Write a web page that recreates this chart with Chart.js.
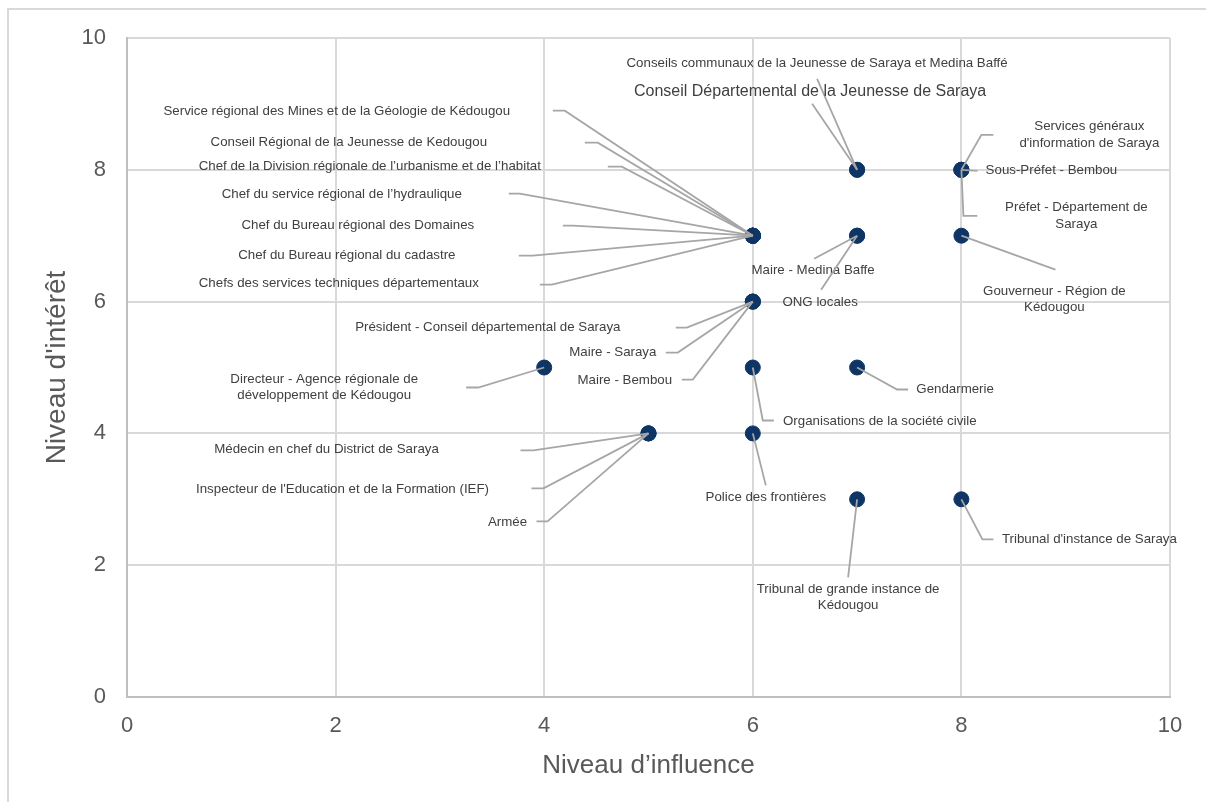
<!DOCTYPE html>
<html>
<head>
<meta charset="utf-8">
<script src="https://cdn.jsdelivr.net/npm/chart.js@4"></script>
<style>
  html, body { margin: 0; padding: 0; background: #fff; overflow: hidden; }
  #wrap { position: relative; width: 1206px; height: 802px; }
  #frame { position: absolute; left: 7px; top: 8px; width: 1400px; height: 1000px; border: 2px solid #d9d9d9; box-sizing: border-box; }
  #chart { position: absolute; left: 0; top: 0; }
</style>
</head>
<body>
<div id="wrap">
  <div id="frame"></div>
  <canvas id="chart" width="1206" height="802"></canvas>
</div>
<script>
const stakeholders = [
    "Service régional des Mines et de la Géologie de Kédougou",
    "Conseil Régional de la Jeunesse de Kedougou",
    "Chef de la Division régionale de l’urbanisme et de l’habitat",
    "Chef du service régional de l’hydraulique",
    "Chef du Bureau régional des Domaines",
    "Chef du Bureau régional du cadastre",
    "Chefs des services techniques départementaux",
    "Conseils communaux de la Jeunesse de Saraya et Medina Baffé",
    "Conseil Départemental de la Jeunesse de Saraya",
    "Services généraux\nd'information de Saraya",
    "Sous-Préfet - Bembou",
    "Préfet - Département de\nSaraya",
    "Maire - Medina Baffe",
    "ONG locales",
    "Gouverneur - Région de\nKédougou",
    "Président - Conseil départemental de Saraya",
    "Maire - Saraya",
    "Maire - Bembou",
    "Directeur - Agence régionale de\ndéveloppement de Kédougou",
    "Médecin en chef du District de Saraya",
    "Inspecteur de l'Education et de la Formation (IEF)",
    "Armée",
    "Gendarmerie",
    "Organisations de la société civile",
    "Police des frontières",
    "Tribunal de grande instance de\nKédougou",
    "Tribunal d'instance de Saraya"
];
const influence = [6, 6, 6, 6, 6, 6, 6, 7, 7, 8, 8, 8, 7, 7, 8, 6, 6, 6, 4, 5, 5, 5, 7, 6, 6, 7, 8];
const interest  = [7, 7, 7, 7, 7, 7, 7, 8, 8, 8, 8, 8, 7, 7, 7, 6, 6, 6, 5, 4, 4, 4, 5, 5, 4, 3, 3];
const xTicks = [0, 2, 4, 6, 8, 10];
const yTicks = [0, 2, 4, 6, 8, 10];

// label placement, px relative to the point: [textX, textY, elbowX, elbowY, endX]
const labelLayout = [
    [-416, -124, -188, -125, -200],
    [-404, -93, -155, -93, -168],
    [-383, -69, -131, -69, -145],
    [-411, -41, -233, -42, -244],
    [-395, -10, -180, -10, -190],
    [-406, 20, -220, 20, -234],
    [-414, 48, -201, 49, -213],
    [-40, -106, -40, -91, -40],
    [-47, -78, -45, -66, -45],
    [128, -35, 20, -35, 32],
    [90, 1, 16, 1, 16],
    [115, 46, 2, 46, 16],
    [-44, 35, -43, 23, -43],
    [-37, 67, -36, 54, -36],
    [93, 64, 94, 34, 94],
    [-265, 26, -66, 26, -77],
    [-140, 51, -75, 51, -87],
    [-128, 79, -60, 78, -71],
    [-220, 20, -66, 20, -78],
    [-322, 16, -115, 17, -128],
    [-306, 56, -105, 55, -117],
    [-141, 89, -101, 88, -112],
    [98, 22, 40, 22, 51],
    [127, 54, 10, 53, 21],
    [13, 64, 13, 52, 13],
    [-9, 98, -9, 78, -9],
    [128, 40, 21, 40, 32]
];
const bigLabel = 8;

const FONT = "'Liberation Sans', Arial, sans-serif";

const leaderLabels = {
    id: "leaderLabels",
    afterDatasetsDraw(chart) {
        const { ctx, scales } = chart;
        ctx.save();
        stakeholders.forEach((name, i) => {
            const px = scales.x.getPixelForValue(influence[i]);
            const py = scales.y.getPixelForValue(interest[i]);
            const [tx, ty, ex, ey, ex2] = labelLayout[i];
            ctx.strokeStyle = "#a6a6a6";
            ctx.lineWidth = 1.8;
            ctx.beginPath();
            ctx.moveTo(px, py);
            ctx.lineTo(px + ex, py + ey);
            ctx.lineTo(px + ex2, py + ey);
            ctx.stroke();

            const size = i === bigLabel ? 16 : 13.3;
            ctx.font = size + "px " + FONT;
            ctx.fillStyle = "#404040";
            ctx.textAlign = "center";
            ctx.textBaseline = "middle";
            const lines = name.split("\n");
            const lh = size * 1.22;
            lines.forEach((ln, k) => {
                ctx.fillText(ln, px + tx, py + ty + (k - (lines.length - 1) / 2) * lh);
            });
        });
        ctx.restore();
    }
};

new Chart(document.getElementById("chart"), {
    type: "scatter",
    data: {
        datasets: [{
            data: influence.map((v, i) => ({ x: v, y: interest[i] })),
            backgroundColor: "#0e3566",
            borderColor: "#0e3566",
            pointRadius: 7.5,
            pointHoverRadius: 7.5
        }]
    },
    options: {
        responsive: false,
        animation: false,
        layout: { padding: { left: 0, top: 38, right: 36, bottom: 0 } },
        plugins: { legend: { display: false }, tooltip: { enabled: false } },
        scales: {
            x: {
                type: "linear", min: 0, max: 10,
                afterBuildTicks: s => { s.ticks = xTicks.map(v => ({ value: v })); },
                afterFit: s => { s.height = 105; },
                ticks: { font: { size: 22, family: FONT }, color: "#595959", padding: 16 },
                grid: { color: "#d9d9d9", lineWidth: 2, drawTicks: false },
                border: { color: "#bfbfbf", width: 2 },
                title: { display: true, text: "Niveau d’influence", color: "#595959",
                    font: { size: 26, family: FONT }, padding: { top: 0, bottom: 21 } }
            },
            y: {
                type: "linear", min: 0, max: 10,
                afterBuildTicks: s => { s.ticks = yTicks.map(v => ({ value: v })); },
                afterFit: s => { s.width = 127; },
                ticks: { font: { size: 22, family: FONT }, color: "#595959", padding: 21 },
                grid: { color: "#d9d9d9", lineWidth: 2, drawTicks: false },
                border: { color: "#bfbfbf", width: 2 },
                title: { display: true, text: "Niveau d'intérêt", color: "#595959",
                    font: { size: 28, family: FONT }, padding: { top: 40, bottom: 0 } }
            }
        }
    },
    plugins: [leaderLabels]
});
</script>
</body>
</html>
